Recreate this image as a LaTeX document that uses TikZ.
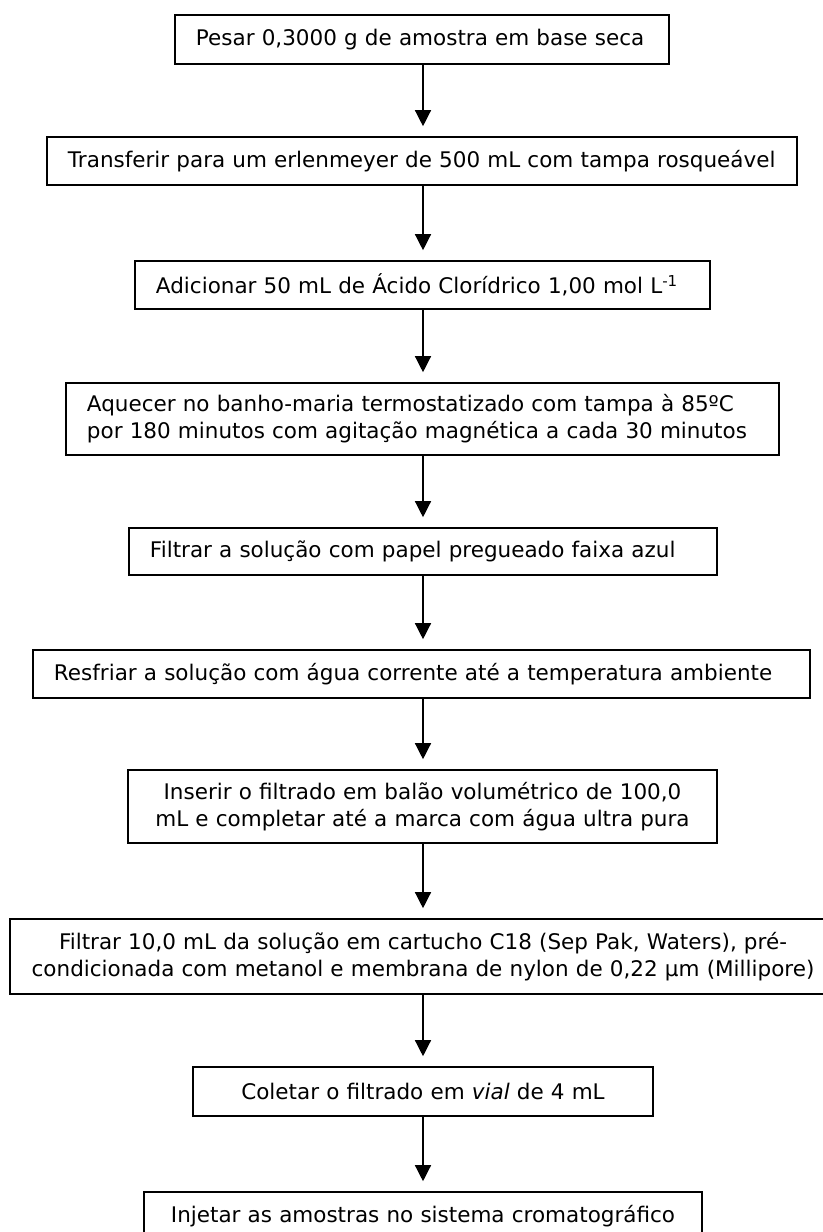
\documentclass[tikz,border=0pt]{standalone}
\usepackage{fontspec}
\setmainfont{DejaVu Sans}
\usetikzlibrary{arrows.meta}
\begin{document}
\begin{tikzpicture}[x=1bp,y=-1bp,
  stepbox/.style={draw=black, line width=1.6bp, inner xsep=21bp, inner ysep=0bp,
    minimum height=48bp, font=\fontsize{21.5bp}{27bp}\selectfont},
  arr/.style={line width=1.3bp, -{Triangle[width=16bp,length=16bp]}}]
\useasboundingbox (0,0) rectangle (823,1232);
\fill[white] (0,0) rectangle (823,1232);
\node[stepbox, text width=452bp, align=left, minimum height=49bp] (b1) at (422,39.5)
  {Pesar 0,3000 g de amostra em base seca};
\node[stepbox, text width=708bp, align=left] (b2) at (422,161)
  {Transferir para um erlenmeyer de 500 mL com tampa rosqueável};
\node[stepbox, text width=533bp, align=left] (b3) at (422.5,285)
  {Adicionar 50 mL de Ácido Clorídrico 1,00 mol L\textsuperscript{-1}};
\node[stepbox, text width=671bp, align=left, minimum height=72bp] (b4) at (422.5,419)
  {\makebox[\linewidth][s]{Aquecer no banho-maria termostatizado com tampa à 85ºC}\\
   por 180 minutos com agitação magnética a cada 30 minutos};
\node[stepbox, text width=546bp, align=left, minimum height=47bp] (b5) at (423,551.5)
  {Filtrar a solução com papel pregueado faixa azul};
\node[stepbox, text width=735bp, align=left] (b6) at (421.5,674)
  {Resfriar a solução com água corrente até a temperatura ambiente};
\node[stepbox, text width=547bp, align=center, minimum height=73bp] (b7) at (422.5,806.5)
  {Inserir o filtrado em balão volumétrico de 100,0\\ mL e completar até a marca com água ultra pura};
\node[stepbox, text width=784bp, align=center, minimum height=75bp] (b8) at (423,956.5)
  {Filtrar 10,0 mL da solução em cartucho C18 (Sep Pak, Waters), pré-\\ condicionada com metanol e membrana de nylon de 0,22 µm (Millipore)};
\node[stepbox, text width=418bp, align=center, minimum height=49bp] (b9) at (423,1091.5)
  {Coletar o filtrado em \textit{vial} de 4 mL};
\node[stepbox, text width=516bp, align=center] (b10) at (423,1216)
  {Injetar as amostras no sistema cromatográfico};
\foreach \a/\b in {b1/b2,b2/b3,b3/b4,b4/b5,b5/b6,b6/b7,b7/b8,b8/b9,b9/b10}{
  \draw[arr] (\a.south -| 423,0) -- ([yshift=10bp]\b.north -| 423,0);
}
\end{tikzpicture}
\end{document}
